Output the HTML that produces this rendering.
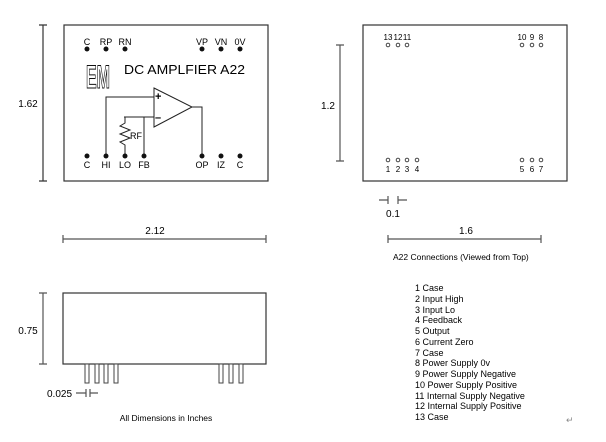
<!DOCTYPE html>
<html><head><style>body{margin:0;background:#fff}svg{display:block}</style></head><body>
<svg width="606" height="442" viewBox="0 0 606 442" xmlns="http://www.w3.org/2000/svg" font-family="Liberation Sans, sans-serif" fill="#000">
<g stroke="#333" stroke-width="1.2" fill="none">
<rect x="64" y="25" width="204" height="156"/>
<path d="M43 25V181M39 25H47M39 181H47"/>
<path d="M63 239H266M63 235V243M266 235V243" stroke="#555"/>
<rect x="363" y="25" width="204" height="156"/>
<path d="M340 45V161M336 45H344M336 161H344" stroke="#555"/>
<path d="M379 200H388M388 196V204M398 196V204M398 200H407" stroke="#555"/>
<path d="M388 239H541M388 235V243M541 235V243" stroke="#555"/>
<rect x="63" y="293" width="203" height="71"/>
<path d="M43 293V364M39 293H47M39 364H47" stroke="#555"/>
<path d="M76 393H86M86 389V397M90 389V397M90 393H98" stroke="#555"/>
</g>
<g stroke="#444" stroke-width="1" fill="#fff">
<rect x="85" y="364" width="4" height="19"/><rect x="95" y="364" width="4" height="19"/><rect x="104" y="364" width="4" height="19"/><rect x="114" y="364" width="4" height="19"/>
<rect x="219" y="364" width="4" height="19"/><rect x="229" y="364" width="4" height="19"/><rect x="239" y="364" width="4" height="19"/>
</g>
<g stroke="#222" stroke-width="1" fill="none">
<path d="M154 88L192 107L154 127Z"/>
<path d="M106 156V97H154M192 107H202V156M124 117H154M144 117V156M125 117V123L120 126L130 130L120 134L130 138L120 142L125 145V156"/>
</g>
<text x="155" y="100" font-size="11" font-weight="bold">+</text>
<text x="155" y="121" font-size="11" font-weight="bold">–</text>
<text x="130" y="139" font-size="9">RF</text>
<g fill="#111">
<circle cx="87" cy="49" r="2.5"/><circle cx="106" cy="49" r="2.5"/><circle cx="125" cy="49" r="2.5"/>
<circle cx="202" cy="49" r="2.5"/><circle cx="221" cy="49" r="2.5"/><circle cx="240" cy="49" r="2.5"/>
<circle cx="87" cy="156" r="2.5"/><circle cx="106" cy="156" r="2.5"/><circle cx="125" cy="156" r="2.5"/><circle cx="144" cy="156" r="2.5"/>
<circle cx="202" cy="156" r="2.5"/><circle cx="221" cy="156" r="2.5"/><circle cx="240" cy="156" r="2.5"/>
</g>
<g font-size="9" text-anchor="middle">
<text x="87" y="45">C</text><text x="106" y="45">RP</text><text x="125" y="45">RN</text>
<text x="202" y="45">VP</text><text x="221" y="45">VN</text><text x="240" y="45">0V</text>
<text x="87" y="168">C</text><text x="106" y="168">HI</text><text x="125" y="168">LO</text><text x="144" y="168">FB</text>
<text x="202" y="168">OP</text><text x="221" y="168">IZ</text><text x="240" y="168">C</text>
</g>
<text x="86" y="88" font-size="32" font-weight="bold" fill="#fff" stroke="#111" stroke-width="1.1" textLength="24" lengthAdjust="spacingAndGlyphs">EM</text>
<text x="124" y="74" font-size="13" textLength="121" lengthAdjust="spacingAndGlyphs">DC AMPLFIER A22</text>
<g font-size="10" text-anchor="middle">
<text x="28" y="107">1.62</text><text x="155" y="234">2.12</text>
<text x="328" y="109">1.2</text><text x="393" y="217">0.1</text><text x="466" y="234">1.6</text>
<text x="28" y="334">0.75</text>
</g>
<text x="47" y="397" font-size="10">0.025</text>
<g stroke="#333" stroke-width="0.9" fill="none">
<circle cx="388" cy="45" r="1.8"/><circle cx="398" cy="45" r="1.8"/><circle cx="407" cy="45" r="1.8"/>
<circle cx="522" cy="45" r="1.8"/><circle cx="532" cy="45" r="1.8"/><circle cx="541" cy="45" r="1.8"/>
<circle cx="388" cy="160" r="1.8"/><circle cx="398" cy="160" r="1.8"/><circle cx="407" cy="160" r="1.8"/><circle cx="417" cy="160" r="1.8"/>
<circle cx="522" cy="160" r="1.8"/><circle cx="532" cy="160" r="1.8"/><circle cx="541" cy="160" r="1.8"/>
</g>
<g font-size="8" text-anchor="middle">
<text x="388" y="40">13</text><text x="398" y="40">12</text><text x="407" y="40">11</text>
<text x="522" y="40">10</text><text x="532" y="40">9</text><text x="541" y="40">8</text>
<text x="388" y="172">1</text><text x="398" y="172">2</text><text x="407" y="172">3</text><text x="417" y="172">4</text>
<text x="522" y="172">5</text><text x="532" y="172">6</text><text x="541" y="172">7</text>
</g>
<text x="393" y="260" font-size="8.5">A22 Connections (Viewed from Top)</text>
<text x="166" y="421" font-size="8.5" text-anchor="middle">All Dimensions in Inches</text>
<g font-size="9">
<text x="415" y="291">1 Case</text>
<text x="415" y="302">2 Input High</text>
<text x="415" y="313">3 Input Lo</text>
<text x="415" y="323">4 Feedback</text>
<text x="415" y="334">5 Output</text>
<text x="415" y="345">6 Current Zero</text>
<text x="415" y="356">7 Case</text>
<text x="415" y="366">8 Power Supply 0v</text>
<text x="415" y="377">9 Power Supply Negative</text>
<text x="415" y="388">10 Power Supply Positive</text>
<text x="415" y="399">11 Internal Supply Negative</text>
<text x="415" y="409">12 Internal Supply Positive</text>
<text x="415" y="420">13 Case</text>
</g>
<text x="566" y="423" font-size="9" fill="#888">↵</text>
</svg>
</body></html>
